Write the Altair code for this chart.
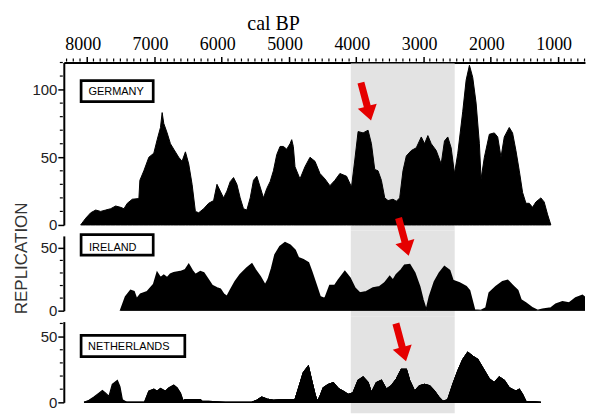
import altair as alt
import pandas as pd

# ---------------- data (cal BP year, replication value) ----------------
de_year = [8090, 8015, 7941, 7867, 7793, 7719, 7644, 7570, 7496, 7447, 7397, 7323, 7225, 7210,
           7151, 7077, 7003, 6953, 6904, 6879, 6855, 6805, 6756, 6707, 6633, 6583, 6533, 6484,
           6434, 6385, 6336, 6262, 6188, 6114, 6064, 6015, 5966, 5916, 5867, 5818, 5768, 5719,
           5670, 5620, 5570, 5521, 5472, 5422, 5373, 5323, 5274, 5225, 5175, 5126, 5077, 5027,
           4978, 4953, 4929, 4904, 4830, 4756, 4681, 4607, 4533, 4459, 4385, 4311, 4237, 4188,
           4138, 4064, 4015, 3966, 3892, 3818, 3768, 3719, 3670, 3620, 3570, 3521, 3447, 3397,
           3348, 3299, 3249, 3175, 3101, 3027, 2978, 2929, 2879, 2805, 2731, 2682, 2633, 2583,
           2533, 2484, 2410, 2360, 2311, 2262, 2212, 2163, 2138, 2089, 2015, 1941, 1891, 1842,
           1793, 1719, 1670, 1620, 1570, 1521, 1471, 1422, 1373, 1323, 1249, 1200, 1151, 1101]
de_val = [0, 5, 9, 11, 10, 11, 12, 14, 13, 12, 16, 19, 19.5, 33,
          40, 50, 53, 63, 72, 83, 75, 68, 60, 56, 50, 47, 54, 45,
          30, 10, 9, 12, 16, 18, 30, 25, 20, 25, 32, 35, 30, 20,
          12, 11, 20, 33, 36, 28, 20, 27, 32, 40, 52, 58, 58, 56,
          60, 63, 58, 43, 34, 43, 50, 47, 38, 34, 29, 33, 38, 37,
          36, 28, 48, 69, 68, 70, 60, 41, 40, 33, 20, 18, 19, 17.5,
          20, 40, 51, 55, 57, 65, 60, 66, 60, 55, 45, 62, 65, 57,
          38, 53, 84, 107, 118, 109, 90, 60, 34, 50, 67, 68, 65, 50,
          65, 72, 68, 55, 40, 24, 16, 16, 13, 17, 20, 17, 8, 0]

ie_year = [7496, 7422, 7348, 7299, 7259, 7200, 7101, 7003, 6953, 6904, 6855, 6805, 6756, 6707,
           6607, 6533, 6484, 6434, 6385, 6311, 6262, 6212, 6138, 6064, 6015, 5966, 5916, 5867,
           5793, 5719, 5620, 5546, 5496, 5422, 5348, 5299, 5249, 5200, 5126, 5052, 4978, 4904,
           4855, 4781, 4706, 4657, 4582, 4533, 4459, 4385, 4311, 4262, 4163, 4089, 4015, 3941,
           3842, 3744, 3644, 3570, 3496, 3447, 3397, 3323, 3274, 3200, 3126, 3052, 3003, 2953,
           2904, 2830, 2756, 2682, 2607, 2558, 2459, 2360, 2311, 2237, 2138, 2064, 2015, 1916,
           1818, 1743, 1670, 1595, 1546, 1471, 1373, 1299, 1225, 1101, 1027, 928, 830, 731,
           632, 583, 533, 484]
ie_val = [0, 11, 16, 15, 9, 13, 15, 21, 30, 26, 28, 26, 29, 30,
          31, 32.5, 36.5, 32, 28.6, 31, 30, 26, 20, 18, 17, 13, 11, 16,
          23, 28.6, 33.8, 37, 32.5, 27, 20, 25, 33.8, 44.4, 51, 54, 52, 48,
          42, 40.5, 38, 31, 19, 11, 9.5, 20, 20, 24, 31, 26, 18, 14,
          15, 18, 19, 22, 27, 24, 28.6, 32.5, 36, 36.5, 30, 19, 8.5, 0,
          11, 23, 30, 35, 32, 24, 22, 19, 16, 0.5, 0, 2, 14, 19,
          23, 24, 20, 16, 8.5, 6, 2, 0, 1, 2, 5, 7, 6, 10,
          12, 10, 0.5, 0]

nl_year = [8040, 7966, 7892, 7818, 7768, 7719, 7670, 7620, 7545, 7507, 7471, 7407,
           7141, 7077, 7003, 6953, 6904, 6830, 6781, 6707, 6657, 6607, 6568, 6540, 6484, 6311, 6286, 6188,
           5941, 5719,
           5546, 5472, 5398, 5323, 5225, 5077, 4929, 4904, 4855, 4781, 4706, 4657, 4607, 4573,
           4533, 4484, 4410, 4336, 4262, 4188, 4114, 4040, 3966, 3892, 3818, 3768, 3694, 3620,
           3546, 3472, 3397, 3323, 3249, 3200, 3126, 3052, 2978, 2904, 2830, 2756, 2706, 2633,
           2558, 2484, 2410, 2336, 2262, 2188, 2114, 2015, 1941, 1867, 1793, 1719, 1620, 1570,
           1521, 1471, 1249]
nl_val = [0, 1.5, 4, 7, 9, 7, 4.5, 13.6, 16.7, 12, 2, 0,
          0, 8.5, 10, 8.5, 10.6, 8.5, 11, 13, 11, 7, 1, 2, 2, 2, 0.8, 0.8,
          0, 0,
          0, 1.5, 4, 2.5, 1.5, 2, 2, 2, 10, 22.5, 27.5, 16.7, 6, 0.7,
          4.5, 11, 13.6, 15, 10.6, 8.5, 6, 7.3, 16.7, 19.2, 15, 7.3, 15, 16.7,
          10, 12.6, 17.7, 25, 25, 16.7, 8.5, 12.6, 13.6, 12.6, 8.5, 3.3, 0.7, 2,
          13.6, 23.9, 32.6, 38, 35, 32.6, 26.3, 17.7, 15, 19.2, 16.7, 11, 8.5, 10,
          6, 0.7, 0]
nl_seg = [1] * 12 + [2] * 16 + [3] * 2 + [4] * 59

panel_names = ["GERMANY", "IRELAND", "NETHERLANDS"]
band_years = [4075, 2530]
major_years = [8000, 7000, 6000, 5000, 4000, 3000, 2000, 1000]
minor_years = [y for y in range(600, 8400, 100) if y % 1000 != 0]

# ---------------- layout ----------------
W = 523
X_DOMAIN = [593, 8341]
xs = alt.Scale(domain=X_DOMAIN, reverse=True, nice=False, zero=False)
ARROW = "M -0.18 -1 L 0.18 -1 L 0.18 0.25 L 0.5 0.25 L 0 1 L -0.5 0.25 L -0.18 0.25 Z"
RED = "#e50000"


def panel(df, name, h, ydom, yvals, yminor, box, text_pos, arrow_pos,
          band_y, band_y2, top=False, ytitle=None, clip=False, sw=1.0):
    ys = alt.Scale(domain=ydom, nice=False, zero=False)
    if top:
        xa = alt.Axis(orient="top", values=major_years, format="d", title="cal BP",
                      titleFont="Liberation Serif", titleFontSize=20, titleFontWeight="normal",
                      titleColor="black", titlePadding=2, titleX=210, titleAlign="center",
                      labelFont="Liberation Serif", labelFontSize=18, labelColor="black",
                      labelPadding=3, labelOffset=-4, labelFlush=False, labelOverlap=False,
                      tickSize=6, tickWidth=1.5, tickColor="black",
                      domainWidth=2, domainColor="black", grid=False)
    else:
        xa = None
    yaxis_kw = dict(values=yvals, tickSize=6, tickWidth=1.5, tickColor="black",
                    domainWidth=2, domainColor="black", labelFont="Liberation Sans",
                    labelFontSize=15, labelColor="#222", labelPadding=1, minExtent=33,
                    grid=False, labelFlush=False, labelOverlap=False)
    if ytitle:
        ya = alt.Axis(title=ytitle, titleFont="Liberation Sans", titleFontSize=17,
                      titleFontWeight="normal", titleColor="#333", titlePadding=0,
                      titleY=22, **yaxis_kw)
    else:
        ya = alt.Axis(title=None, **yaxis_kw)

    def X(f):
        return alt.X(f, scale=xs, axis=xa)

    def Y(f):
        return alt.Y(f, scale=ys, axis=ya)

    layers = []
    layers.append(
        alt.Chart(pd.DataFrame({"year": [band_years[0]], "b": [band_years[1]]}))
        .mark_rect(color="#e3e3e3")
        .encode(x=X("year:Q"), x2="b:Q", y=alt.value(band_y), y2=alt.value(band_y2))
    )
    layers.append(
        alt.Chart(df).mark_area(color="black", stroke="black", strokeWidth=sw, clip=clip)
        .encode(x=X("year:Q"), y=Y("v:Q"), detail="seg:N")
    )
    layers.append(
        alt.Chart(pd.DataFrame({"v": yminor})).mark_rule(color="black", strokeWidth=1.2)
        .encode(y=Y("v:Q"), x=alt.value(-1), x2=alt.value(-4))
    )
    if top:
        layers.append(
            alt.Chart(pd.DataFrame({"year": minor_years})).mark_rule(color="black", strokeWidth=1.2)
            .encode(x=X("year:Q"), y=alt.value(-1), y2=alt.value(-4))
        )
    layers.append(
        alt.Chart(pd.DataFrame({"year": [box[0]], "x2": [box[1]], "v": [box[2]], "y2": [box[3]]}))
        .mark_rect(fill="white", stroke="black", strokeWidth=2.7)
        .encode(x=X("year:Q"), x2="x2:Q", y=Y("v:Q"), y2="y2:Q")
    )
    layers.append(
        alt.Chart(pd.DataFrame({"year": [text_pos[0]], "v": [text_pos[1]], "t": [name]}))
        .mark_text(align="left", baseline="middle", font="Liberation Sans", fontSize=11,
                   color="black")
        .encode(x=X("year:Q"), y=Y("v:Q"), text="t:N")
    )
    layers.append(
        alt.Chart(pd.DataFrame({"year": [arrow_pos[0]], "v": [arrow_pos[1]]}))
        .mark_point(shape=ARROW, filled=True, color=RED, opacity=1, size=1545, angle=345,
                    strokeWidth=0)
        .encode(x=X("year:Q"), y=Y("v:Q"))
    )
    return alt.layer(*layers).properties(width=W, height=h)


de_df = pd.DataFrame({"year": de_year, "v": de_val, "seg": 1})
ie_df = pd.DataFrame({"year": ie_year, "v": ie_val, "seg": 1})
nl_df = pd.DataFrame({"year": nl_year, "v": nl_val, "seg": nl_seg})

H_DE, H_IE, H_NL = 163, 75, 81

de = panel(de_df, panel_names[0], H_DE, [0, 120], [0, 50, 100],
           [10, 20, 30, 40, 60, 70, 80, 90, 110, 120],
           box=[8084, 7012, 106.6, 91.1], text_pos=[7975, 98.5], arrow_pos=[3849, 91.2],
           band_y=1, band_y2=H_DE + 5.5, top=True)
ie = panel(ie_df, panel_names[1], H_IE, [0, 59.5], [0, 50], [10, 20, 30, 40],
           box=[8084, 7012, 60.6, 44.2], text_pos=[7966, 50.2], arrow_pos=[3289, 58.7],
           band_y=-5.5, band_y2=H_IE + 5.5, ytitle="REPLICATION", clip=True, sw=1.8)
nl = panel(nl_df, panel_names[2], H_NL, [0, 61.4], [0, 50], [10, 20, 30, 40, 60],
           box=[8084, 6542, 51.0, 34.8], text_pos=[7981, 42.0], arrow_pos=[3329, 45.6],
           band_y=-5.5, band_y2=H_NL + 11, sw=1.2)

chart = (
    alt.vconcat(de, ie, nl, spacing=11, bounds="flush")
    .properties(padding={"left": 5, "top": 5, "right": 0, "bottom": 0})
    .configure(font="Liberation Sans")
    .configure_view(strokeWidth=0)
)

chart.save("out.html", embed_options={"renderer": "svg", "actions": False})
